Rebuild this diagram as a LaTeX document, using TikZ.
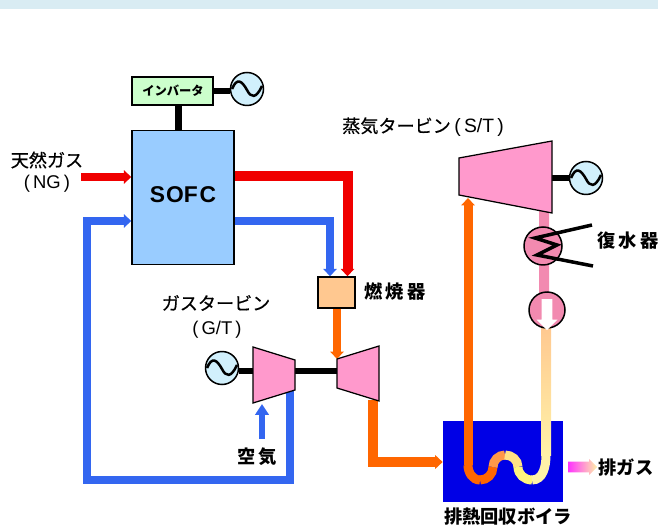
\documentclass[tikz,border=0pt]{standalone}
\usepackage{fontspec}
\setmainfont{Noto Sans CJK JP}
\newfontfamily\labelfont[FakeBold=0.5]{Noto Sans CJK JP}
\newfontfamily\latinfont{Liberation Sans}
\usetikzlibrary{arrows.meta,shapes.arrows}
\definecolor{bandblue}{HTML}{D9ECF3}
\definecolor{fuelred}{HTML}{F00000}
\definecolor{airblue}{HTML}{3366F0}
\definecolor{hotorange}{HTML}{FF6600}
\definecolor{turbinepink}{HTML}{FF99CC}
\definecolor{pipepink}{HTML}{F28AB0}
\definecolor{peach}{HTML}{FFC890}
\definecolor{paleyellow}{HTML}{FFF2A8}
\definecolor{boilerblue}{HTML}{0000E6}
\definecolor{cellblue}{HTML}{99CCFF}
\newcommand{\acwave}[1]{\draw[line width=0.05cm,shift={(#1)}] (-15,0) .. controls (-10,-12) and (-5,-8) .. (0,1) .. controls (4,9) and (9,10) .. (15,-3);}
\tikzset{
  boxnode/.style={draw, line width=0.03cm, inner sep=0pt},
  acnode/.style={circle, draw, line width=0.03cm, fill=cyan!18, minimum size=0.66cm, inner sep=0pt},
  labelnode/.style={inner sep=0pt, font=\labelfont\fontsize{10.3}{12}\selectfont},
  boldlabel/.style={inner sep=0pt, font=\fontsize{10.4}{12}\selectfont\bfseries},
  shaft/.style={line width=0.13cm},
  pipe/.style={line width=#1, line join=miter},
  tip/.style={-{Triangle[length=0.15cm,width=0.27cm]}},
  turbine/.style={draw, line width=0.025cm, fill=turbinepink}
}
\begin{document}
\begin{tikzpicture}[x=0.02cm, y=-0.02cm]
  \useasboundingbox (0,0) rectangle (658,526);
  \fill[bandblue] (0,0) rectangle (658,9);

  % main boxes
  \node[boxnode, fill=green!20, minimum width=1.62cm, minimum height=0.56cm] (inv) at (172.5,91) {};
  \node[boxnode, fill=cellblue, minimum width=2.04cm, minimum height=2.68cm] (sofc) at (183,197.5) {};
  \node[boxnode, fill=peach, minimum width=0.74cm, minimum height=0.62cm] (comb) at (336.5,292.5) {};
  \node[fill=boilerblue, minimum width=2.4cm, minimum height=1.62cm, inner sep=0pt] (hrsg) at (503,461.5) {};

  % turbine end points
  \coordinate (gcr) at (295,375);
  \coordinate (gtl) at (337,373);
  \coordinate (str) at (552,178);

  % generators and pipe circles
  \node[acnode] (ac1) at (247,89) {};
  \node[acnode] (ac2) at (222,368) {};
  \node[acnode] (ac3) at (586,178) {};

  % pipes behind the shapes
  \shade[top color=pipepink, bottom color=pipepink] (539,211) rectangle (549,295);
  \shade[top color=peach, bottom color=paleyellow] (541,326) rectangle (551,455);

  \node[circle, draw, line width=0.03cm, fill=pipepink, minimum size=0.76cm, inner sep=0pt] (cond) at (543,246) {};
  \node[circle, draw, line width=0.03cm, fill=pipepink, minimum size=0.72cm, inner sep=0pt] (pump) at (547,310) {};

  % shafts
  \draw[shaft] (inv.south) ++(6,0) -- ++(0,25);
  \draw[shaft] (inv.east) -- (ac1.west |- inv.east);
  \draw[shaft] (ac2.east) ++(0,3) -- (253,371);
  \draw[shaft] (gcr |- 0,371) -- (gtl |- 0,371);
  \draw[shaft] (str) -- (ac3);
  \acwave{ac1}
  \acwave{ac2}
  \acwave{ac3}

  % fuel and air lines
  \coordinate (ngin) at (81,177);
  \coordinate (redbend) at (347.5,176);
  \coordinate (bluebend) at (330,221);
  \coordinate (loopa) at (290,480);
  \coordinate (loopb) at (87,480);
  \coordinate (loopc) at (87,221);
  \coordinate (airin) at (262,439);
  \coordinate (gcout) at (290,388);
  \draw[pipe=0.15cm, fuelred, tip] (ngin) -- (sofc.west |- ngin);
  \draw[pipe=0.2cm, fuelred, tip] (sofc.east |- redbend) -- (redbend) -- (redbend |- comb.north);
  \draw[pipe=0.16cm, airblue, tip] (sofc.east |- bluebend) -- (bluebend) -- (bluebend |- comb.north);
  \draw[pipe=0.17cm, airblue, tip] (gcout) -- (loopa) -- (loopb) -- (loopc) -- (sofc.west |- loopc);
  \draw[pipe=0.13cm, airblue, -{Triangle[length=0.22cm,width=0.27cm]}] (airin) -- (262,404);

  % hot gas lines
  \coordinate (gtin) at (337,359);
  \coordinate (gtout) at (373,400);
  \coordinate (gtbend) at (373,462);
  \coordinate (stin) at (468,198);
  \coordinate (wave0) at (468,465);
  \draw[pipe=0.17cm, hotorange, tip] (comb.south -| gtin) -- (gtin);
  \draw[pipe=0.19cm, hotorange, tip] (gtout) -- (gtbend) -- (hrsg.west |- gtbend);
  \draw[pipe=0.18cm, hotorange, tip] (wave0) -- (stin);

  % turbines
  \draw[turbine] (253,347) -- (295,360) -- (295,390) -- (253,403) -- cycle;
  \draw[turbine] (337,359) -- (379,346) -- (379,401) -- (337,388) -- cycle;
  \draw[turbine] (459,158) -- (552,141) -- (552,213) -- (459,195) -- cycle;

  % heat exchange tube
  \draw[pipe=0.18cm, hotorange] (wave0) to[out=-90, in=180] (480,480);
  \draw[pipe=0.18cm, hotorange] (480,480) to[out=0, in=-90] (493,467);
  \draw[pipe=0.18cm, color=hotorange!50!peach] (493,467) to[out=90, in=180] (505,455);
  \draw[pipe=0.18cm, color=peach!50!paleyellow!85!yellow] (505,455) to[out=0, in=90] (518,467);
  \draw[pipe=0.18cm, color=paleyellow!75!yellow] (518,467) to[out=-90, in=180] (532,480);
  \draw[pipe=0.18cm, color=paleyellow] (532,480) to[out=0, in=-90] (546,455);

  % condenser coil and pump arrow
  \draw[line width=0.07cm] (592,225) -- (535,238) -- (557,245) -- (537,255) -- (593,266);
  \node[single arrow, fill=white, minimum width=0.42cm, single arrow head extend=0.1cm, minimum height=0.62cm, inner sep=0.1cm, rotate=-90] (pumparrow) at (547,312) {};

  % exhaust
  \node[single arrow, left color=magenta!80, right color=paleyellow, minimum width=0.32cm, single arrow head extend=0.05cm, minimum height=0.58cm, inner sep=0.09cm] (exhaust) at (580,467) {};

  % labels
  \node[labelnode] (lbng) at (47,160) {天然ガス};
  \node[labelnode, font=\latinfont\fontsize{10.5}{12}\selectfont] (lbngb) at (47,184) {(\,NG\,)};
  \node[inner sep=0pt, font=\fontsize{7}{8}\selectfont\bfseries] (lbinv) at (173,91) {インバータ};
  \node[inner sep=0pt, font=\latinfont\fontsize{13}{15}\selectfont\bfseries] (lbsofc) at (183,195) {S\kern.6pt OF\kern1pt C};
  \node[labelnode] (lbst) at (423,127) {蒸気タービン\kern2pt{\latinfont\fontsize{11}{12}\selectfont(\,S/T\,)}};
  \node[boldlabel] (lbcond) at (628,241) {復\,水\,器};
  \node[boldlabel] (lbcomb) at (395,292) {燃\,焼\,器};
  \node[labelnode] (lbgt) at (216,303) {ガスタービン};
  \node[labelnode, font=\latinfont\fontsize{10.5}{12}\selectfont] (lbgtb) at (217,330) {(\,G/T\,)};
  \node[boldlabel] (lbair) at (257,457) {空\,気};
  \node[boldlabel] (lbex) at (626,468) {排ガス};
  \node[boldlabel] (lbhrsg) at (508,517) {排熱回収ボイラ};
\end{tikzpicture}
\end{document}
